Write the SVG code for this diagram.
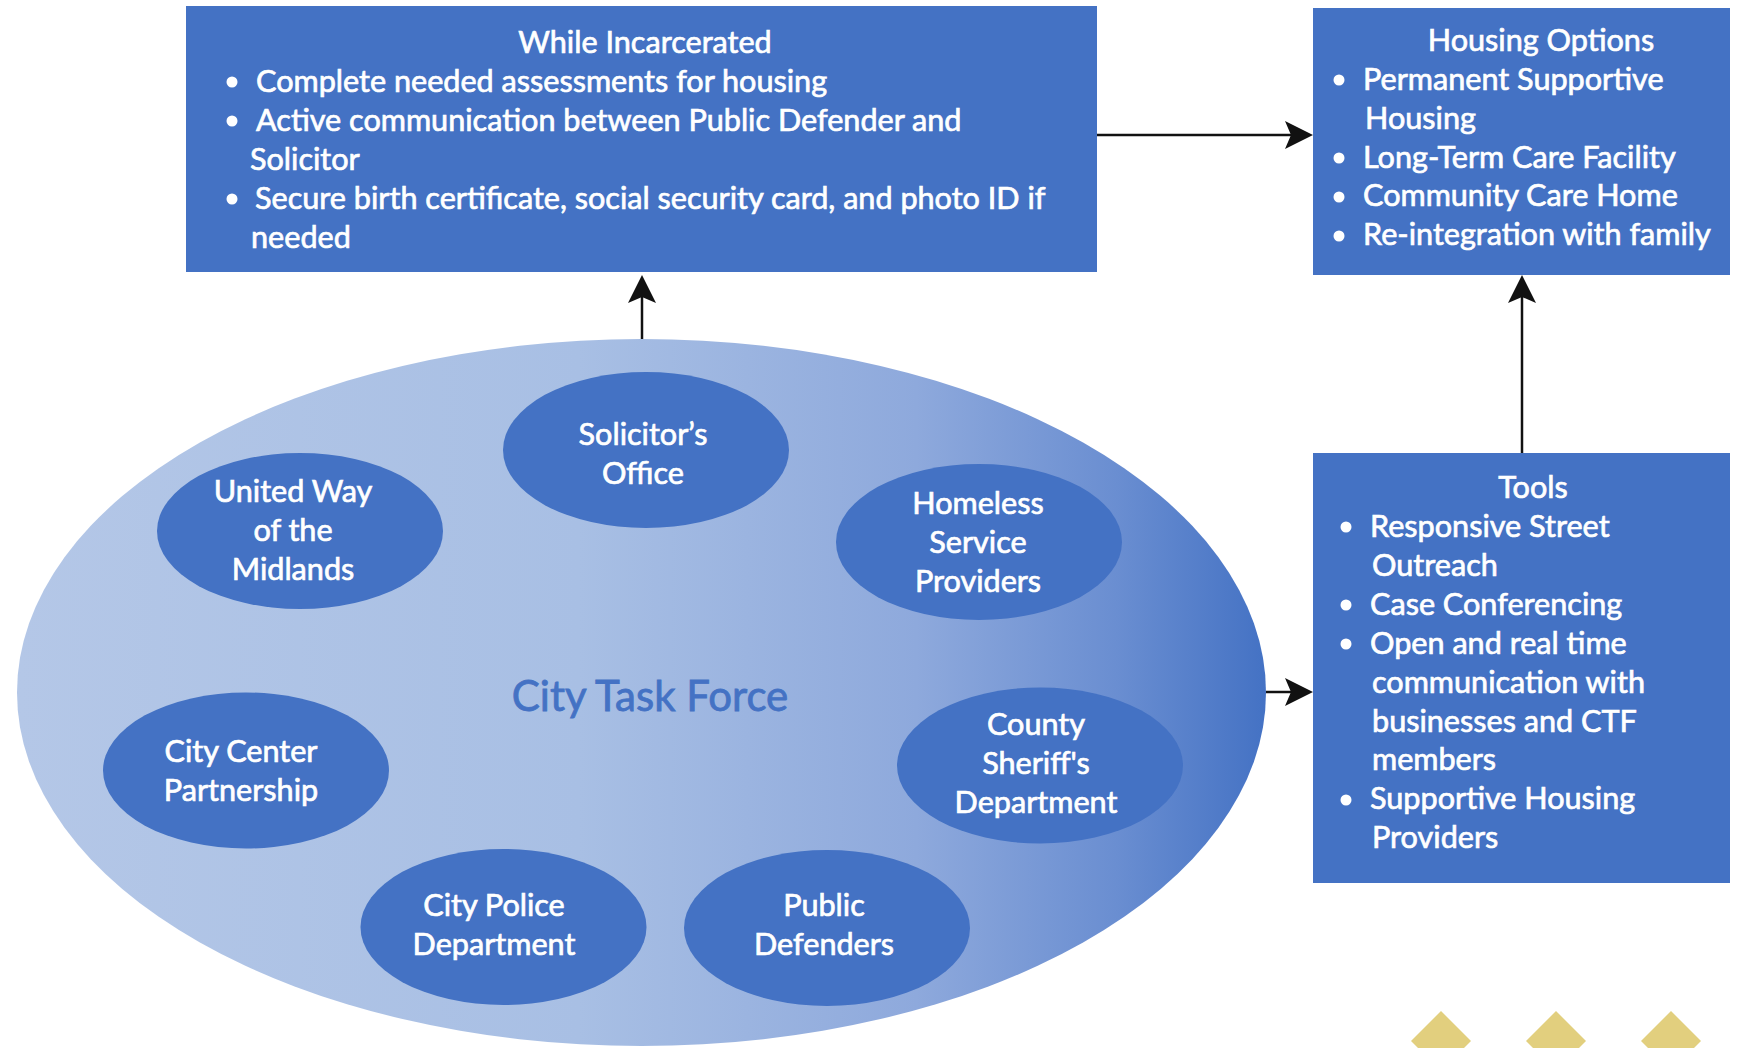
<svg xmlns="http://www.w3.org/2000/svg" width="1741" height="1048" viewBox="0 0 1741 1048">
<defs>
<linearGradient id="tf" x1="0" y1="0" x2="1" y2="0">
<stop offset="0" stop-color="#b4c7e7"/>
<stop offset="0.45" stop-color="#a8bfe4"/>
<stop offset="0.72" stop-color="#8ea9dc"/>
<stop offset="0.88" stop-color="#6a8ed1"/>
<stop offset="1" stop-color="#4472c4"/>
</linearGradient>
<marker id="ah" viewBox="0 0 28 30" refX="6" refY="15" markerWidth="28" markerHeight="30" markerUnits="userSpaceOnUse" orient="auto">
<path d="M28,15 L0,1 L6,15 L0,29 Z" fill="#111"/>
</marker>
<style>
.box{fill:#4472c4}
.org{fill:#4472c4}
.t{font-family:Lato,"Liberation Sans",sans-serif;font-size:30.6px;fill:#ffffff;stroke:#ffffff;stroke-width:0.7px}
.c{text-anchor:middle}
.bul{fill:#ffffff}
.ln{stroke:#111;stroke-width:2.5;fill:none}
.dia{fill:#e2cf7e}
.ctf{font-family:Lato,"Liberation Sans",sans-serif;font-size:42px;fill:#4472c4;stroke:#4472c4;stroke-width:0.8px;text-anchor:middle}
</style>
</defs>
<rect width="1741" height="1048" fill="#ffffff"/>

<g id="connectors">
<line class="ln" x1="642" y1="339" x2="642" y2="297" marker-end="url(#ah)"/>
<line class="ln" x1="1097" y1="135" x2="1291" y2="135" marker-end="url(#ah)"/>
<line class="ln" x1="1522" y1="453" x2="1522" y2="297" marker-end="url(#ah)"/>
<line class="ln" x1="1266" y1="692" x2="1291" y2="692" marker-end="url(#ah)"/>
</g>

<g id="while-incarcerated">
<rect class="box" x="186" y="6" width="911" height="266"/>
<text class="t c" x="645" y="53">While Incarcerated</text>
<circle class="bul" cx="232" cy="82" r="5.5"/>
<text class="t" x="256" y="92">Complete needed assessments for housing</text>
<circle class="bul" cx="232" cy="121" r="5.5"/>
<text class="t" x="256" y="131">Active communication between Public Defender and</text>
<text class="t" x="250" y="170">Solicitor</text>
<circle class="bul" cx="232" cy="199" r="5.5"/>
<text class="t" x="255" y="209">Secure birth certificate, social security card, and photo ID if</text>
<text class="t" x="251" y="248">needed</text>
</g>

<g id="housing-options">
<rect class="box" x="1313" y="8" width="417" height="267"/>
<text class="t c" x="1541" y="51">Housing Options</text>
<circle class="bul" cx="1339" cy="80" r="5.5"/>
<text class="t" x="1363" y="90">Permanent Supportive</text>
<text class="t" x="1365" y="129">Housing</text>
<circle class="bul" cx="1339" cy="158" r="5.5"/>
<text class="t" x="1363" y="168">Long-Term Care Facility</text>
<circle class="bul" cx="1339" cy="197" r="5.5"/>
<text class="t" x="1363" y="206">Community Care Home</text>
<circle class="bul" cx="1339" cy="236" r="5.5"/>
<text class="t" x="1363" y="245">Re-integration with family</text>
</g>

<g id="tools">
<rect class="box" x="1313" y="453" width="417" height="430"/>
<text class="t c" x="1533" y="498">Tools</text>
<circle class="bul" cx="1346" cy="527" r="5.5"/>
<text class="t" x="1370" y="537">Responsive Street</text>
<text class="t" x="1372" y="576">Outreach</text>
<circle class="bul" cx="1346" cy="605" r="5.5"/>
<text class="t" x="1370" y="615">Case Conferencing</text>
<circle class="bul" cx="1346" cy="644" r="5.5"/>
<text class="t" x="1370" y="654">Open and real time</text>
<text class="t" x="1372" y="693">communication with</text>
<text class="t" x="1372" y="732">businesses and CTF</text>
<text class="t" x="1372" y="770">members</text>
<circle class="bul" cx="1346" cy="800" r="5.5"/>
<text class="t" x="1370" y="809">Supportive Housing</text>
<text class="t" x="1372" y="848">Providers</text>
</g>

<g id="city-task-force">
<ellipse cx="641.5" cy="692.5" rx="624.5" ry="353.5" fill="url(#tf)"/>
<text class="ctf" x="650" y="711">City Task Force</text>
</g>

<g id="solicitors-office">
<ellipse class="org" cx="646" cy="450" rx="143" ry="78"/>
<text class="t c" x="643" y="445">Solicitor’s</text>
<text class="t c" x="643" y="484">Office</text>
</g>

<g id="united-way">
<ellipse class="org" cx="300" cy="531" rx="143" ry="78"/>
<text class="t c" x="293" y="502">United Way</text>
<text class="t c" x="293" y="541">of the</text>
<text class="t c" x="293" y="580">Midlands</text>
</g>

<g id="homeless-service-providers">
<ellipse class="org" cx="979" cy="542" rx="143" ry="78"/>
<text class="t c" x="978" y="514">Homeless</text>
<text class="t c" x="978" y="553">Service</text>
<text class="t c" x="978" y="592">Providers</text>
</g>

<g id="city-center-partnership">
<ellipse class="org" cx="246" cy="770.5" rx="143" ry="78"/>
<text class="t c" x="241" y="762">City Center</text>
<text class="t c" x="241" y="801">Partnership</text>
</g>

<g id="county-sheriffs-department">
<ellipse class="org" cx="1040" cy="765.5" rx="143" ry="78"/>
<text class="t c" x="1036" y="735">County</text>
<text class="t c" x="1036" y="774">Sheriff's</text>
<text class="t c" x="1036" y="813">Department</text>
</g>

<g id="city-police-department">
<ellipse class="org" cx="503.5" cy="927" rx="143" ry="78"/>
<text class="t c" x="494" y="916">City Police</text>
<text class="t c" x="494" y="955">Department</text>
</g>

<g id="public-defenders">
<ellipse class="org" cx="827" cy="928" rx="143" ry="78"/>
<text class="t c" x="824" y="916">Public</text>
<text class="t c" x="824" y="955">Defenders</text>
</g>

<g id="decoration">
<polygon class="dia" points="1441,1011 1471,1041 1441,1071 1411,1041"/>
<polygon class="dia" points="1556,1011 1586,1041 1556,1071 1526,1041"/>
<polygon class="dia" points="1671,1011 1701,1041 1671,1071 1641,1041"/>
</g>
</svg>
